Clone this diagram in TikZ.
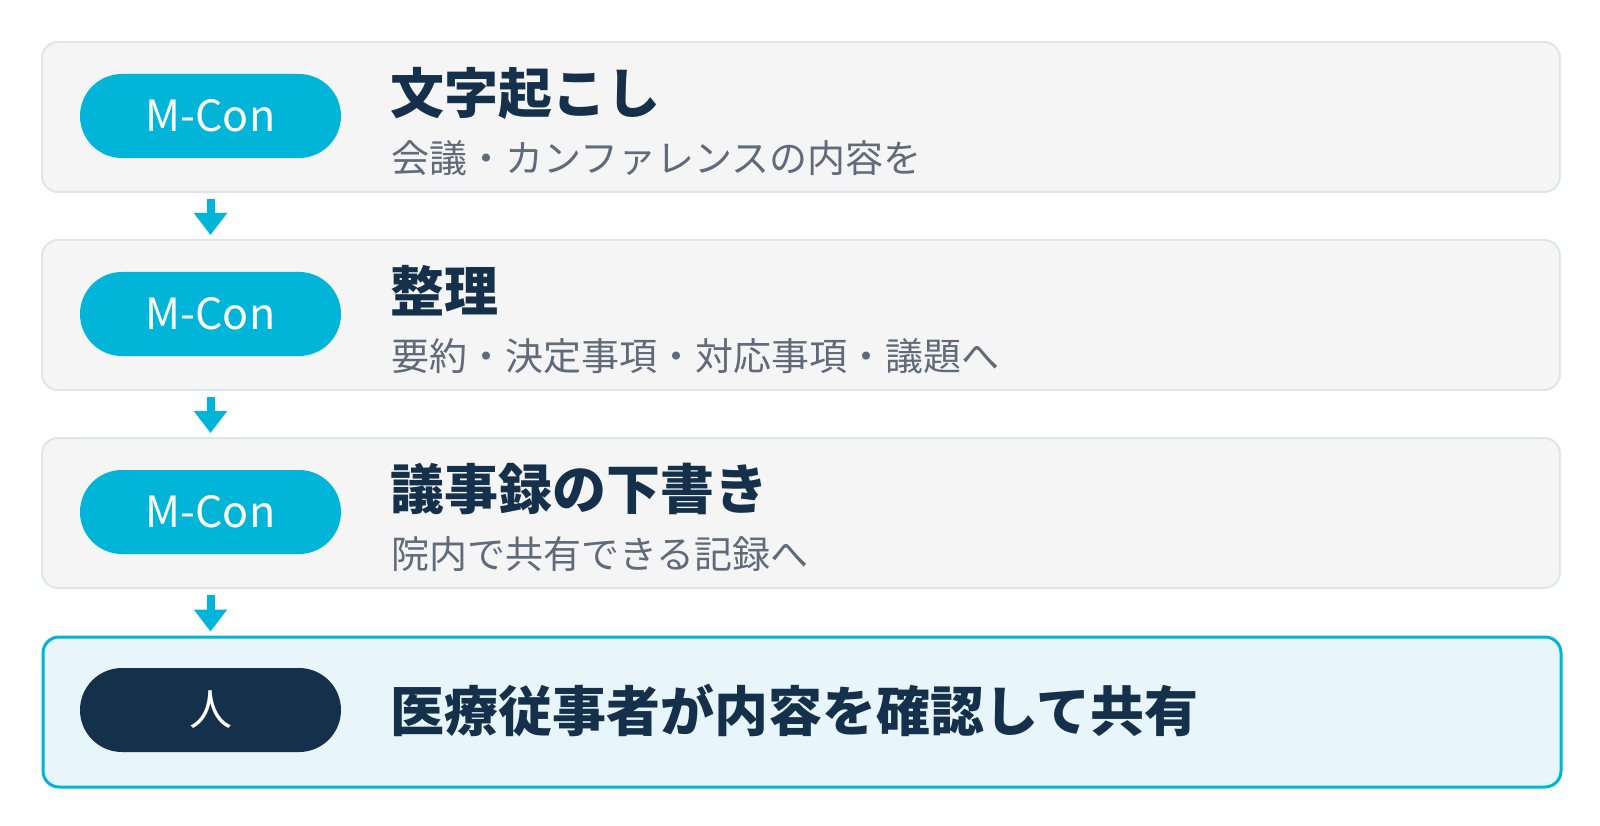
\documentclass[tikz,border=0pt]{standalone}
\usepackage{fontspec}
\setmainfont{Noto Sans CJK JP}
\usetikzlibrary{arrows.meta}
\definecolor{cyanM}{HTML}{00B5D8}
\definecolor{navy}{HTML}{15304A}
\definecolor{subgray}{HTML}{5F6B7A}
\definecolor{cardfill}{HTML}{F5F5F5}
\definecolor{cardline}{HTML}{DEE5ED}
\definecolor{hlfill}{HTML}{E8F5FA}
\tikzset{
  card/.style={draw=cardline, line width=2pt, fill=cardfill, rounded corners=16pt,
    minimum width=1518pt, minimum height=150pt, anchor=north west, inner sep=0pt},
  hlcard/.style={card, draw=cyanM, line width=3pt, fill=hlfill},
  pill/.style={fill=cyanM, rounded corners=42pt, minimum width=261pt, minimum height=84pt,
    inner sep=0pt, text=white, font=\fontsize{43}{50}\selectfont},
  humanpill/.style={pill, fill=navy},
  ttl/.style={anchor=west, inner sep=0pt, text=navy, font=\fontsize{54}{60}\selectfont\bfseries},
  sub/.style={anchor=west, inner sep=0pt, text=subgray, font=\fontsize{38}{42}\selectfont},
  flow/.style={draw=cyanM, line width=8pt, -{Triangle[width=32pt,length=22pt]}}
}
\begin{document}
\begin{tikzpicture}[x=1pt,y=-1pt]
\useasboundingbox (0,0) rectangle (1600,826);
% cards
\node[card] (b1) at (41,41) {};
\node[card] (b2) at (41,239) {};
\node[card] (b3) at (41,437) {};
\node[hlcard] (b4) at (41.5,635.5) {};
% pills
\node[pill] (p1) at (210.5,116) {M-Con};
\node[pill] (p2) at (210.5,314) {M-Con};
\node[pill] (p3) at (210.5,512) {M-Con};
\node[humanpill] (p4) at (210.5,710) {人};
% texts
\node[ttl] (t1) at (390,93) {文字起こし};
\node[sub] (s1) at (391,158) {会議・カンファレンスの内容を};
\node[ttl] (t2) at (390,291) {整理};
\node[sub] (s2) at (391,356) {要約・決定事項・対応事項・議題へ};
\node[ttl] (t3) at (390,489) {議事録の下書き};
\node[sub] (s3) at (391,554) {院内で共有できる記録へ};
\node[ttl] (t4) at (390,711) {医療従事者が内容を確認して共有};
% arrows
\draw[flow] ([yshift=-6pt]b1.south -| p1.center) -- ([yshift=4pt]b2.north -| p1.center);
\draw[flow] ([yshift=-6pt]b2.south -| p2.center) -- ([yshift=4pt]b3.north -| p2.center);
\draw[flow] ([yshift=-6pt]b3.south -| p3.center) -- ([yshift=4pt]b4.north -| p3.center);
\end{tikzpicture}
\end{document}
